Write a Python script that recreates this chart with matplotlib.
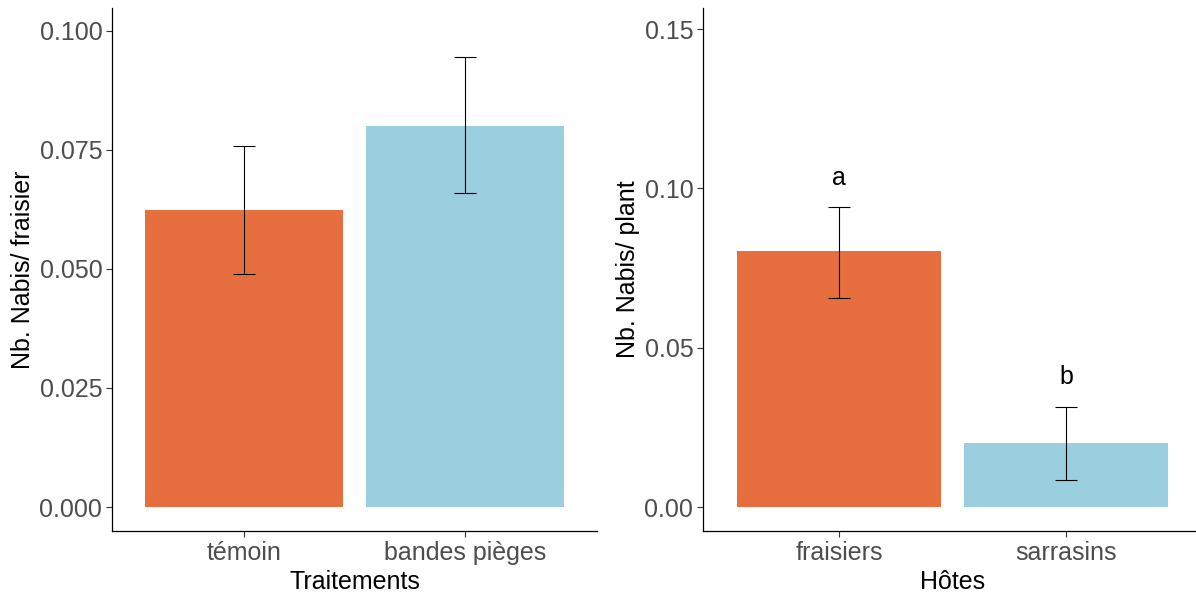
import matplotlib
import matplotlib.pyplot as plt

matplotlib.use("Agg")

plt.rcParams["font.family"] = ["Liberation Sans", "DejaVu Sans"]

ORANGE = "#E76F3F"
BLUE = "#9BCEDF"

# Traitements panel
treat_names = ["témoin", "bandes pièges"]
treat_mean = [0.0623, 0.0800]
treat_low = [0.0489, 0.0660]
treat_high = [0.0758, 0.0945]
treat_ticks = [0.000, 0.025, 0.050, 0.075, 0.100]
treat_tick_labels = ["0.000", "0.025", "0.050", "0.075", "0.100"]

# Hôtes panel
host_names = ["fraisiers", "sarrasins"]
host_mean = [0.0802, 0.0201]
host_low = [0.0657, 0.0085]
host_high = [0.0943, 0.0314]
host_letters = ["a", "b"]
host_letter_y = [0.1032, 0.0408]
host_ticks = [0.00, 0.05, 0.10, 0.15]
host_tick_labels = ["0.00", "0.05", "0.10", "0.15"]


def bar_panel(ax, names, mean, low, high, ticks, tick_labels, ylim, xlabel, ylabel):
    x = list(range(len(names)))
    ax.bar(x, mean, width=0.9, color=[ORANGE, BLUE], zorder=1)
    yerr = [[m - lo for m, lo in zip(mean, low)], [hi - m for m, hi in zip(mean, high)]]
    ax.errorbar(x, mean, yerr=yerr, fmt="none", ecolor="black",
                elinewidth=0.8, capsize=8, capthick=0.8, zorder=2)
    ax.set_xlim(-0.6, len(names) - 0.4)
    ax.set_ylim(*ylim)
    ax.set_xticks(x)
    ax.set_xticklabels(names)
    ax.set_yticks(ticks)
    ax.set_yticklabels(tick_labels)
    ax.tick_params(axis="both", labelsize=18, labelcolor="#4D4D4D",
                   length=4, width=0.8, pad=3, color="#333333")
    for side in ("top", "right"):
        ax.spines[side].set_visible(False)
    for side in ("left", "bottom"):
        ax.spines[side].set_linewidth(0.9)
    ax.set_xlabel(xlabel, fontsize=18, labelpad=4)
    ax.set_ylabel(ylabel, fontsize=18, labelpad=3)


fig = plt.figure(figsize=(11.96, 5.94), dpi=100)
bottom = 1 - 531 / 594
height = (531 - 8) / 594
ax1 = fig.add_axes([112 / 1196, bottom, (597 - 112) / 1196, height])
ax2 = fig.add_axes([703 / 1196, bottom, (1202 - 703) / 1196, height])

bar_panel(ax1, treat_names, treat_mean, treat_low, treat_high,
          treat_ticks, treat_tick_labels, (-0.00504, 0.1048),
          "Traitements", "Nb. Nabis/ fraisier")
bar_panel(ax2, host_names, host_mean, host_low, host_high,
          host_ticks, host_tick_labels, (-0.0075, 0.1566),
          "Hôtes", "Nb. Nabis/ plant")

for i, (letter, y) in enumerate(zip(host_letters, host_letter_y)):
    ax2.text(i, y, letter, ha="center", va="center", fontsize=18, color="black")

fig.savefig("out.png", dpi=100)
